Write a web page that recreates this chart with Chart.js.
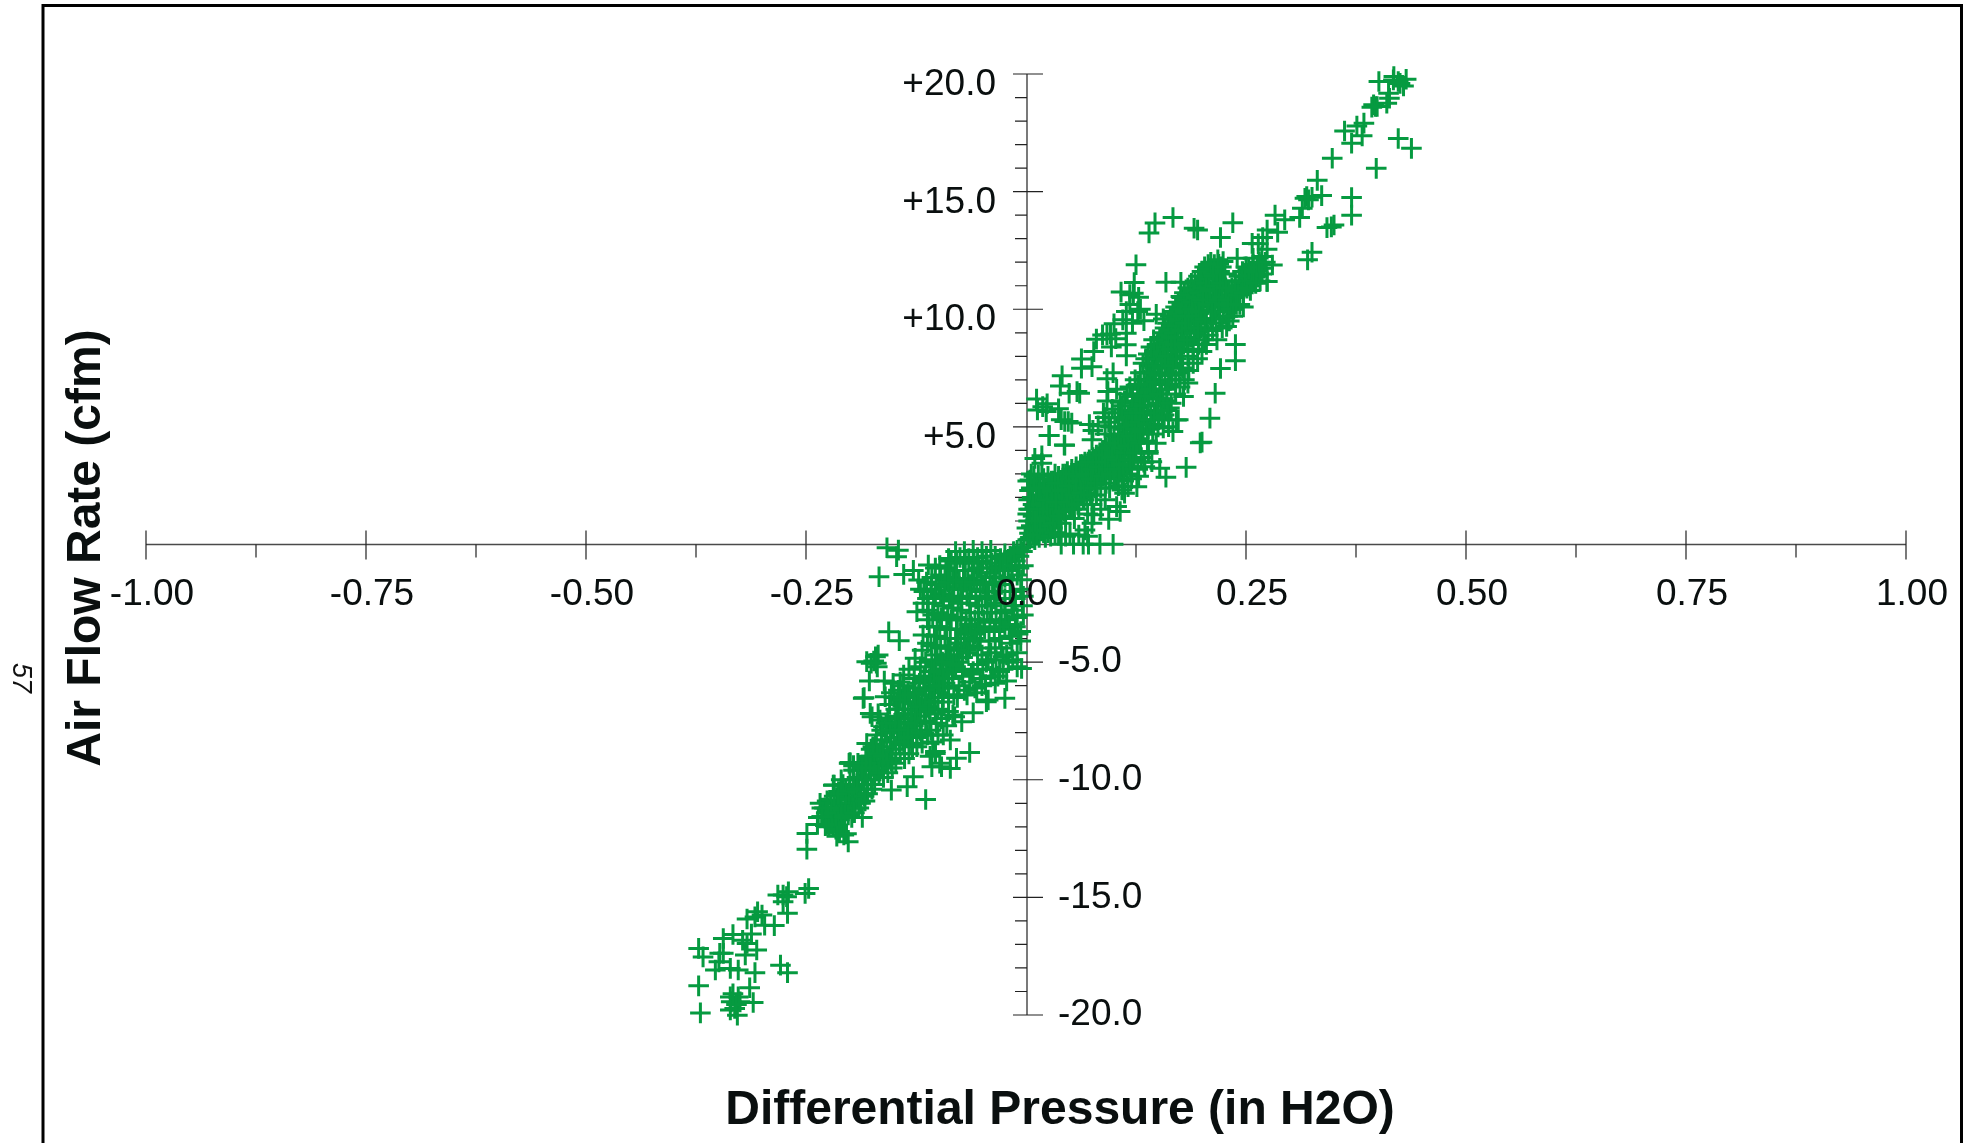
<!DOCTYPE html>
<html>
<head>
<meta charset="utf-8">
<title>Air Flow Rate vs Differential Pressure</title>
<script src="https://cdn.jsdelivr.net/npm/chart.js@4"></script>
<style>
    html, body { margin: 0; padding: 0; background: #fff; overflow: hidden; }
    canvas { display: block; }
</style>
</head>
<body>
<canvas id="flowChart" width="1965" height="1143"></canvas>
<script>
/* ---- tick labels ---- */
const xTickValues = [-1, -0.75, -0.5, -0.25, 0, 0.25, 0.5, 0.75, 1];
const xTickLabels = ['-1.00', '-0.75', '-0.50', '-0.25', '0.00', '0.25', '0.50', '0.75', '1.00'];
const yPositiveValues = [5, 10, 15, 20];
const yPositiveLabels = ['+5.0', '+10.0', '+15.0', '+20.0'];
const yNegativeValues = [-5, -10, -15, -20];
const yNegativeLabels = ['-5.0', '-10.0', '-15.0', '-20.0'];

const xTitle = 'Differential Pressure (in H2O)';
const yTitle = 'Air Flow Rate (cfm)';
const pageNumber = '57';

/* ---- readings [pressure, flow] ---- */
const upperTail = [
    [.401,19.68],[.418,19.89],[.432,19.78],[.425,19.6],[.429,19.49],[.4175,19.75],[.423,19.68],[.412,19.18],[.410,18.76],
    [.397,18.62],[.395,18.69],[.399,18.62],[.393,18.59],[.413,18.97],[.384,17.91],[.376,17.79],[.382,17.37],[.362,17.58],
    [.370,17.06],[.348,16.42],[.423,17.26],[.438,16.84],[.398,15.99],[.331,15.48],[.336,14.83],[.319,14.79],[.325,14.76],
    [.317,14.72],[.321,14.65],[.314,14.29],[.311,13.9],[.370,14.75],[.370,14.0],[.342,13.47],[.350,13.58],[.347,13.5],
    [.325,12.42],[.320,12.1],[.283,14.0],[.294,13.8],[.274,13.37],[.286,13.27],[.257,12.8],[.269,13.05],[.274,12.55],
    [.264,12.78],[.235,13.68],[.221,13.05],[.219,11.91],[.224,12.03],[.240,12.17],[.258,12.17],[.268,12.24],[.280,11.88],
    [.274,11.18],[.254,11.53],[.258,11.25],[.251,11.39],[.264,11.67],[.270,11.74],[.260,11.53],[.266,11.9],[.272,12.0]
];

const upperStrays = [
    [.167,13.9],[.1466,13.67],[.1398,13.24],
    [.191,13.44],[.195,13.37],[.125,11.89],[.123,11.14],[.108,10.73],[.159,11.15],[.176,11.15],[.176,10.54],[.128,10.51],
    [.122,10.68],[.118,10.62],[.134,9.51],[.148,9.79],[.156,9.59],[.114,9.9],[.100,9.38],[.114,8.98],[.114,8.49],[.114,8.02],
    [.087,8.91],[.092,8.91],[.096,8.95],[.080,8.73],[.077,8.2],[.063,7.89],[.075,7.56],[.063,7.49],[.041,7.17],[.092,7.05],
    [.049,6.43],[.058,6.5],[.061,6.43],[.039,6.74],[.093,6.5],[.092,6.1],[.012,6.18],[.019,5.86],[.024,5.98],[.037,5.77],
    [.013,5.72],[.023,5.65],[.044,5.23],[.052,5.16],[.048,5.23],[.040,5.3],[.026,4.63],[.044,4.22],[.018,3.77],[.075,4.45],
    [.238,8.5],[.238,7.81],[.221,7.48],[.215,6.43],[.209,5.37],[.198,4.32],[.184,6.86],[.190,7.7],[.274,11.18],[.228,9.27],
    [.247,10.1],[.217,8.7],[.183,10.26],[.173,5.3],[.167,4.8],[.156,4.95],[.139,3.95],[.179,6.29],[.127,9.9],[.118,10.2],
    [.121,9.4],[.130,10.0],[.110,9.55],[.102,8.75],[.097,8.4],[.099,7.3],[.103,6.6],[.107,6.05],[.098,5.75],[.088,5.6],
    [.094,5.2],[.082,5.05],[.090,4.7],[.072,5.1],[.076,4.85],[.018,3.45],[.010,3.66],[.014,2.96],[.0045,2.74],[.008,2.32],
    [.0265,4.63],[.0435,4.23]
];

const upperBand = [
    [.100,4.6],[.104,4.2],[.106,5.0],[.108,4.4],[.110,4.9],[.112,5.3],[.113,4.6],[.115,5.1],[.116,5.5],[.118,4.9],
    [.119,5.7],[.120,5.2],[.122,5.5],[.123,6.0],[.124,5.4],[.126,5.8],[.127,6.3],[.128,5.6],[.130,6.1],[.131,6.6],
    [.132,5.9],[.133,6.4],[.134,7.0],[.135,6.2],[.136,6.7],[.137,7.3],[.138,6.5],[.139,7.0],[.140,7.6],[.141,6.8],
    [.142,7.3],[.143,7.9],[.144,7.0],[.145,7.6],[.146,8.2],[.147,7.3],[.148,7.9],[.149,8.5],[.150,7.6],[.151,8.2],
    [.152,8.8],[.153,7.9],[.154,8.4],[.155,9.0],[.156,8.1],[.157,8.7],[.158,9.2],[.159,8.4],[.160,8.9],[.161,9.4],
    [.162,8.6],[.163,9.1],[.164,9.7],[.165,8.8],[.166,9.3],[.167,9.9],[.168,9.0],[.169,9.6],[.170,10.1],[.171,9.3],
    [.172,9.8],[.173,10.3],[.174,9.5],[.175,10.0],[.176,9.1],[.177,10.5],[.178,9.7],[.179,10.2],[.180,10.7],[.181,9.9],
    [.182,10.4],[.183,9.4],[.184,10.9],[.185,10.1],[.186,10.6],[.187,9.7],[.188,11.1],[.189,10.3],[.190,10.8],[.191,9.9],
    [.192,11.2],[.193,10.5],[.194,11.0],[.195,10.1],[.196,11.4],[.197,10.7],[.198,11.2],[.199,10.3],[.200,11.6],[.201,10.9],
    [.202,11.4],[.203,11.8],[.204,11.1],[.205,11.6],[.206,10.6],[.207,11.9],[.208,11.3],[.209,11.7],[.210,12.0],[.212,11.5],
    [.214,11.9],[.216,11.3],[.218,12.1],[.220,11.6],[.222,11.8],[.224,11.2],[.226,11.5],[.213,11.0],[.208,10.4],[.215,10.8],
    [.164,7.5],[.168,7.9],[.172,8.3],[.176,7.7],[.180,8.6],[.184,8.0],[.187,8.8],[.190,8.3],[.193,9.0],[.196,8.5],
    [.199,9.2],[.202,8.7],[.205,9.4],[.207,8.9],[.210,9.6],[.212,9.1],[.214,9.9],[.216,9.4],[.218,10.1],[.220,9.6],
    [.222,10.4],[.224,9.9],[.226,10.6],[.228,10.1],[.230,10.8],[.232,10.3],[.234,10.9],[.236,10.5],[.238,11.2],[.240,10.7],
    [.242,11.4],[.244,10.9],[.246,11.6],[.248,11.1],[.250,11.8],[.252,11.3],[.254,11.0],[.256,11.6],[.258,11.9],[.262,11.4],
    [.266,11.2],[.268,11.5],[.150,6.2],[.154,6.6],[.158,7.0],[.162,6.8],[.166,7.2],[.170,7.0],[.146,6.8],[.152,7.2],
    [.174,7.3],[.178,7.5],[.160,7.6],[.156,7.9],[.177,8.2],[.183,9.0],[.188,9.5],[.201,9.9],[.206,10.2],[.212,10.5],
    [.219,10.9],[.226,11.0],[.236,10.0],[.229,9.7],[.223,9.2],[.196,9.5],[.192,9.4],[.186,9.1]
];

const upperCore = [
    [.004,.48],[.006,.8],[.008,1.2],[.009,.6],[.010,1.6],[.011,.9],[.012,2.0],[.013,1.3],[.014,.7],[.015,1.7],
    [.016,1.0],[.017,2.1],[.018,1.4],[.019,.9],[.020,1.8],[.021,1.2],[.022,2.3],[.023,1.6],[.024,1.0],[.025,2.0],
    [.026,1.4],[.027,2.5],[.028,1.8],[.029,1.2],[.030,2.2],[.031,1.6],[.032,2.7],[.033,2.0],[.034,1.3],[.035,2.4],
    [.036,1.8],[.037,2.9],[.038,2.1],[.039,1.5],[.040,2.6],[.041,2.0],[.042,3.0],[.043,2.3],[.044,1.6],[.045,2.7],
    [.046,2.1],[.047,3.1],[.048,2.4],[.049,1.7],[.050,2.8],[.051,2.2],[.052,3.2],[.053,2.5],[.054,1.9],[.055,2.9],
    [.056,2.3],[.057,3.3],[.058,2.6],[.059,2.0],[.060,3.0],[.061,2.4],[.062,3.4],[.063,2.7],[.064,2.1],[.065,3.1],
    [.066,2.5],[.067,3.5],[.068,2.8],[.069,2.2],[.070,3.2],[.071,2.6],[.072,3.6],[.073,2.9],[.074,3.3],[.075,2.7],
    [.076,3.7],[.077,3.0],[.078,3.4],[.079,2.8],[.080,3.8],[.081,3.1],[.082,3.5],[.083,2.9],[.084,3.9],[.085,3.2],
    [.086,3.6],[.087,4.0],[.088,3.3],[.089,3.7],[.090,3.0],[.091,4.1],[.092,3.4],[.093,3.8],[.094,4.2],[.095,3.5],
    [.096,3.9],[.097,3.2],[.098,4.3],[.099,3.6],[.100,4.0],[.102,3.7],[.104,3.4],[.106,3.9],[.108,3.6],[.110,4.1],
    [.112,3.8],[.114,4.3],[.116,3.9],[.118,4.5],[.120,4.1],[.122,4.7],[.124,4.3],[.126,4.9],[.128,4.5],[.130,5.1],
    [.133,4.7],[.136,5.3],[.139,4.9],[.142,5.5],[.145,5.1],[.148,5.7],[.151,5.3],[.154,5.9],[.157,5.5],[.160,6.1],
    [.163,5.8],[.103,2.9],[.107,3.1],[.111,2.7],[.115,3.0],[.119,3.3],[.123,3.6],[.127,3.2],[.131,3.7],[.105,2.5],
    [.135,3.31],[.143,3.52],[.152,3.24],[.159,2.86],[.182,3.28],[.116,2.46],[.126,2.46],[.107,1.4],[.103,1.61],[.094,1.07],
    [.077,1.26],[.112,2.18],[.109,2.32],[.067,.62],[.075,.9],[.200,4.35],[.171,5.29],[.162,5.01],[.139,3.88],[.148,4.3],
    [.099,.01],[.084,.01],[.071,.01],[.065,.01],[.054,.01],[.040,.01],[.090,1.9],[.085,1.5],[.080,2.1],[.075,1.7],
    [.070,1.3],[.065,1.9],[.060,1.5],[.055,1.1],[.050,1.6],[.045,1.2],[.040,.9],[.035,1.1],[.030,.7],[.025,.5],
    [.020,.5],[.015,.3],[.010,.2],[.005,.3],[.002,.2],[.003,1.0],[.005,1.5],[.003,1.9],[.006,2.4],[.002,1.3],
    [.007,2.0],[.012,2.6],[.016,2.5],[.020,2.8],[.009,2.9],[.004,2.3],[.025,2.9],[.029,2.7],[.033,3.0],[.070,.35],
    [.060,.4],[.050,.45],[.045,.35],[.095,2.4],[.100,2.8]
];

const upperFill = [
    [.008,1.7],[.012,1.1],[.015,2.4],[.019,1.5],[.022,.8],[.024,1.9],[.027,1.1],[.029,2.3],[.031,.9],[.034,1.8],[.036,2.6],[.038,1.2],
    [.041,2.3],[.043,1.4],[.045,3.0],[.047,1.8],[.049,2.5],[.052,1.5],[.053,3.0],[.055,2.1],[.057,2.7],[.059,1.7],[.061,2.9],[.063,2.2],
    [.064,3.4],[.066,1.9],[.068,3.0],[.070,2.4],[.071,3.5],[.073,2.1],[.074,2.8],[.076,3.2],[.078,2.4],[.080,3.5],[.081,2.6],[.083,3.3],
    [.085,2.4],[.086,3.8],[.088,2.9],[.090,3.5],[.091,2.6],[.093,3.2],[.095,4.1],[.096,3.0],[.098,3.7],[.100,3.2],[.101,4.3],[.103,3.6],
    [.105,4.5],[.106,3.2],[.108,4.1],[.110,3.4],[.111,4.7],[.113,3.9],[.114,5.0],[.116,4.2],[.118,3.6],[.119,4.6],[.121,5.1],[.122,3.9],
    [.124,4.9],[.125,5.6],[.127,4.4],[.129,5.2],[.130,5.9],[.132,4.8],[.134,5.6],[.135,6.3],[.137,5.1],[.139,5.9],[.141,6.6],[.142,5.3],
    [.144,6.3],[.146,5.6],[.147,6.9],[.149,6.0],[.151,7.2],[.152,6.4],[.154,7.5],[.156,6.2],[.158,7.8],[.160,6.6],[.161,8.0],[.163,7.2],
    [.165,8.3],[.167,7.6],[.169,8.5],[.171,7.9],[.173,8.8],[.175,8.2],[.177,9.1],[.179,8.5],[.181,9.4],[.183,8.7],[.185,9.7],[.187,9.2],
    [.189,10.0],[.191,9.0],[.193,9.7],[.195,9.2],[.197,9.9],[.199,9.5],[.201,10.4],[.203,9.6],[.205,10.9],[.207,10.2],[.209,10.8],[.211,9.9],
    [.213,11.4],[.215,10.3],[.217,11.0],[.219,10.4],[.221,11.1],[.223,10.5],[.225,10.2],[.227,10.9],[.229,10.4],[.231,9.5],[.233,10.0],[.235,9.7],
    [.237,10.8],[.239,10.2],[.241,10.6],[.243,10.2],[.245,11.2],[.247,10.7],[.249,11.4],[.251,10.9],[.253,11.7],[.255,10.8],[.257,11.2],[.259,11.6],
    [.261,11.1],[.263,11.8],[.265,12.0],[.090,5.4],[.096,5.0],[.101,5.4],[.105,5.6],[.109,5.9],[.112,6.1],[.115,6.4],[.118,6.7],[.121,6.3],
    [.124,7.0],[.127,6.8],[.130,7.3],[.133,7.7],[.136,7.9],[.139,8.1],[.142,8.4],[.145,8.7],[.120,2.8],[.128,2.9],[.134,3.5],[.125,3.9],
    [.130,4.3],[.138,4.4],[.144,4.7],[.150,5.0],[.155,5.4],[.160,5.7],[.165,6.0],[.170,6.4],[.175,6.7],[.180,7.0],[.185,7.4],[.195,7.9],
    [.200,8.2],[.205,8.5],[.002,2.7],[.006,3.0],[.001,.7],[.003,1.5],[.008,.4],[.012,.4],[.016,.6],[.022,.3],[.028,.35],[.033,.5],[.037,.4],[.010,1.0]
];

const lowerCore = [
    [-.002,-.1],[-.004,-.3],[-.006,-.15],[-.008,-.5],[-.010,-.25],[-.012,-.7],[-.014,-.35],[-.016,-.9],[-.018,-.5],[-.020,-1.1],
    [-.022,-.7],[-.024,-1.4],[-.026,-.9],[-.028,-1.7],[-.030,-1.1],[-.032,-2.0],[-.034,-1.4],[-.036,-2.3],[-.038,-1.7],[-.040,-2.6],
    [-.042,-2.0],[-.044,-2.9],[-.046,-2.3],[-.048,-3.2],[-.050,-2.6],[-.052,-3.5],[-.054,-2.9],[-.056,-3.7],[-.058,-3.2],[-.060,-4.0],
    [-.062,-3.5],[-.064,-4.3],[-.066,-3.8],[-.068,-4.5],[-.070,-4.0],[-.072,-4.8],[-.074,-4.2],[-.076,-5.0],[-.078,-4.5],[-.080,-5.2],
    [-.082,-4.7],[-.084,-5.4],[-.086,-4.9],[-.088,-5.7],[-.090,-5.1],[-.092,-5.9],[-.094,-5.3],[-.096,-6.1],[-.098,-5.6],[-.100,-6.3],
    [-.102,-5.8],[-.104,-6.5],[-.106,-6.0],[-.108,-6.7],[-.110,-6.2],[-.112,-6.9],[-.114,-6.4],[-.116,-7.1],[-.118,-6.6],[-.120,-7.3],
    [-.122,-6.8],[-.124,-7.5],[-.126,-7.0],[-.128,-7.7],[-.130,-7.2],[-.132,-7.9],[-.134,-7.4],[-.136,-8.1],[-.138,-7.6],[-.140,-8.3],
    [-.142,-7.8],[-.144,-8.5],[-.146,-8.0],[-.148,-8.7],[-.150,-8.2],[-.152,-8.9],[-.154,-8.4],[-.156,-9.1],[-.158,-8.6],[-.160,-9.3],
    [-.162,-8.8],[-.164,-9.4],[-.166,-9.0],[-.168,-9.6],[-.170,-9.2],[-.172,-9.8],[-.174,-9.4],[-.176,-10.0],[-.178,-9.6],[-.180,-10.2],
    [-.182,-9.8],[-.184,-10.4],[-.186,-10.0],[-.188,-10.6],[-.190,-10.2],[-.192,-10.8],[-.194,-10.4],[-.196,-11.0],[-.198,-10.6],[-.200,-11.1],
    [-.202,-10.8],[-.204,-11.3],[-.206,-11.0],[-.208,-11.5],[-.210,-11.1],[-.212,-11.7],[-.214,-11.2],[-.216,-11.4],[-.218,-11.8],[-.220,-11.3],
    [-.223,-11.57],[-.226,-11.9],[-.229,-11.2],[-.232,-11.57],[-.228,-11.95],[-.224,-12.0],[-.219,-12.0],[-.214,-11.95],[-.232,-11.2],[-.236,-11.6],
    [-.210,-10.6],[-.205,-10.4],[-.200,-10.0],[-.196,-10.3],[-.192,-9.9],[-.188,-9.6],[-.184,-9.5],[-.180,-9.1],[-.176,-9.0],[-.172,-8.8]
];

const lowerScatter = [
    [-.085,-.7],[-.080,-.3],[-.075,-.55],
    [-.070,-.3],[-.065,-.6],[-.060,-.25],[-.055,-.55],[-.050,-.3],[-.045,-.5],[-.040,-.25],[-.035,-.5],[-.103,-1.0],[-.097,-1.3],
    [-.091,-1.0],[-.086,-1.4],[-.081,-1.1],[-.076,-1.5],[-.071,-1.1],[-.066,-1.45],[-.061,-1.1],[-.056,-1.5],[-.051,-1.2],[-.046,-1.6],
    [-.041,-1.2],[-.036,-1.6],[-.113,-1.6],[-.108,-1.9],[-.102,-1.7],[-.097,-2.1],[-.092,-1.8],[-.087,-2.2],[-.082,-1.9],[-.077,-2.3],
    [-.072,-1.9],[-.067,-2.2],[-.062,-1.9],[-.057,-2.3],[-.052,-2.0],[-.120,-1.9],[-.124,-2.86],[-.117,-2.5],[-.111,-2.8],[-.105,-2.5],
    [-.100,-2.9],[-.094,-2.6],[-.089,-3.0],[-.083,-2.7],[-.078,-3.1],[-.073,-2.8],[-.068,-3.2],[-.063,-2.9],[-.117,-3.85],[-.110,-3.5],
    [-.104,-3.9],[-.098,-3.5],[-.092,-4.0],[-.086,-3.6],[-.080,-4.0],[-.074,-3.6],[-.108,-4.3],[-.103,-4.7],[-.097,-4.4],[-.091,-4.8],
    [-.086,-4.4],[-.126,-4.84],[-.120,-5.2],[-.114,-5.0],[-.108,-5.4],[-.102,-5.1],[-.096,-5.5],[-.090,-4.7],[-.139,-5.55],[-.133,-5.3],
    [-.127,-5.7],[-.121,-5.9],[-.116,-5.6],[-.110,-5.7],[-.104,-5.8],[-.151,-5.9],[-.145,-6.2],[-.140,-6.0],[-.134,-6.3],[-.128,-6.1],
    [-.122,-6.4],[-.160,-6.47],[-.155,-6.8],[-.150,-6.5],[-.145,-7.0],[-.140,-6.7],[-.134,-7.0],[-.128,-6.7],[-.175,-7.32],[-.168,-7.2],
    [-.162,-7.75],[-.157,-7.4],[-.152,-7.7],[-.147,-7.3],[-.142,-7.55],[-.138,-7.2],[-.166,-7.46],[-.177,-7.18],[-.170,-8.1],[-.164,-8.3],
    [-.158,-8.0],[-.181,-8.46],[-.176,-8.7],[-.171,-8.5],[-.166,-8.75],[-.201,-9.3],[-.196,-9.6],[-.191,-9.3],[-.200,-9.27],[-.219,-10.23],
    [-.213,-10.5],[-.208,-10.2],[-.212,-10.85],[-.130,-8.5],[-.124,-8.2],[-.118,-8.45],[-.112,-8.1],[-.106,-8.4],[-.100,-8.1],[-.108,-7.9],
    [-.102,-7.6],[-.096,-7.4],[-.090,-7.7],[-.083,-7.25],[-.073,-7.53],[-.081,-7.32],[-.060,-7.15],[-.045,-6.68],[-.043,-6.61],[-.024,-6.54],
    [-.022,-5.8],[-.005,-5.27],[-.003,-3.0],[-.026,-4.77],[-.030,-5.4],[-.035,-5.9],[-.040,-5.6],[-.046,-5.95],[-.052,-5.7],[-.058,-6.1],
    [-.064,-5.85],[-.070,-6.2],[-.076,-6.0],[-.082,-6.4],[-.088,-6.1],[-.094,-6.5],[-.055,-5.1],[-.050,-4.7],[-.045,-5.0],[-.040,-4.6],
    [-.034,-4.9],[-.028,-4.4],[-.022,-4.7],[-.016,-4.2],[-.010,-4.6],[-.006,-4.1],[-.042,-4.1],[-.036,-3.7],[-.030,-4.0],[-.024,-3.6],
    [-.018,-3.9],[-.012,-3.5],[-.006,-3.7],[-.034,-3.2],[-.028,-2.9],[-.022,-3.2],[-.016,-2.8],[-.010,-3.1],[-.004,-2.6],[-.024,-2.3],
    [-.018,-2.0],[-.012,-2.3],[-.006,-1.9],[-.003,-2.2],[-.016,-1.5],[-.010,-1.3],[-.005,-1.5],[-.003,-.9],[-.008,-1.0],[-.014,-.3]
];

const lowerFill = [
    [-.098,-.9],[-.092,-1.5],[-.088,-.6],[-.083,-1.6],[-.079,-.8],[-.074,-1.9],[-.069,-.7],[-.064,-1.7],[-.059,-.8],[-.054,-1.0],[-.049,-.7],[-.044,-1.0],
    [-.039,-.8],[-.034,-1.0],[-.029,-.6],[-.024,-.4],[-.116,-2.0],[-.112,-2.3],[-.107,-1.4],[-.103,-2.2],[-.099,-1.7],[-.094,-2.3],[-.089,-1.6],[-.084,-2.4],
    [-.079,-1.5],[-.074,-2.5],[-.069,-1.6],[-.064,-2.5],[-.059,-1.6],[-.054,-2.6],[-.049,-1.7],[-.044,-2.2],[-.039,-2.9],[-.034,-2.5],[-.029,-3.3],[-.024,-2.8],
    [-.019,-3.4],[-.014,-2.6],[-.009,-3.8],[-.112,-3.2],[-.106,-3.0],[-.101,-3.5],[-.096,-3.1],[-.090,-3.6],[-.085,-3.2],[-.079,-3.6],[-.074,-3.2],[-.069,-3.7],
    [-.064,-3.4],[-.058,-3.8],[-.052,-4.1],[-.047,-3.6],[-.041,-3.3],[-.035,-4.4],[-.030,-3.5],[-.118,-4.5],[-.112,-4.2],[-.107,-4.9],[-.101,-4.3],[-.095,-5.0],
    [-.089,-4.4],[-.083,-5.1],[-.077,-4.2],[-.072,-5.3],[-.066,-4.6],[-.060,-5.4],[-.055,-4.4],[-.049,-5.3],[-.043,-4.9],[-.038,-5.3],[-.032,-5.6],[-.026,-5.3],
    [-.020,-5.0],[-.015,-4.9],[-.010,-5.2],[-.115,-5.8],[-.109,-6.1],[-.104,-5.4],[-.099,-6.0],[-.094,-5.7],[-.088,-6.4],[-.083,-5.7],[-.078,-6.5],[-.072,-5.6],
    [-.067,-6.4],[-.062,-5.5],[-.056,-6.3],[-.050,-6.0],[-.132,-6.5],[-.126,-6.3],[-.120,-6.9],[-.115,-6.2],[-.110,-7.0],[-.105,-6.7],[-.100,-7.0],[-.095,-6.7],
    [-.088,-7.1],[-.148,-7.0],[-.143,-6.6],[-.137,-6.4],[-.131,-7.4],[-.126,-7.6],[-.120,-7.9],[-.114,-7.5],[-.109,-7.6],[-.103,-7.2],[-.164,-7.9],[-.159,-7.6],
    [-.154,-7.9],[-.149,-7.6],[-.144,-7.9],[-.139,-8.4],[-.134,-8.2],[-.129,-8.6],[-.124,-8.6],[-.119,-8.0],[-.180,-9.0],[-.174,-8.6],[-.169,-8.9],[-.163,-9.0],
    [-.158,-9.3],[-.153,-9.2],[-.148,-9.3],[-.143,-8.9],[-.138,-9.1],[-.133,-8.9],[-.196,-9.4],[-.191,-9.9],[-.186,-9.5],[-.182,-9.3],[-.177,-9.5],[-.172,-10.2],
    [-.167,-9.7],[-.162,-9.9],[-.157,-9.7],[-.152,-9.5],[-.210,-10.0],[-.205,-10.8],[-.201,-10.5],[-.197,-11.2],[-.192,-10.4],[-.188,-11.0],[-.184,-10.7],[-.180,-10.6],
    [-.175,-10.4],[-.226,-10.9],[-.222,-11.0],[-.218,-10.7],[-.214,-10.6],[-.210,-11.6],[-.206,-11.5],[-.202,-11.5],[-.198,-11.6],[-.234,-11.0],[-.230,-11.6],[-.227,-11.4],
    [-.221,-11.9],[-.216,-12.1],[-.212,-12.2]
];

const lowerStrays = [
    [-.158,-.14],[-.145,-.24],[-.147,-.52],[-.167,-1.37],[-.139,-1.27],[-.111,-.87],[-.122,-1.51],[-.128,-1.1],[-.156,-3.71],[-.144,-4.09],
    [-.181,-4.98],[-.171,-4.77],[-.169,-5.2],[-.173,-4.95],[-.176,-5.05],[-.168,-4.7],[-.170,-5.05],[-.178,-5.8],[-.184,-6.51],[-.185,-6.54],
    [-.153,-6.3],[-.143,-5.85],[-.161,-5.8],[-.114,-10.84],[-.153,-10.44],[-.135,-10.3],[-.128,-9.87],[-.086,-9.52],[-.107,-9.45],[-.096,-9.45],
    [-.064,-8.84],[-.079,-9.09],[-.103,-8.88],[-.086,-8.31],[-.094,-8.1],[-.109,-9.0],[-.098,-9.3],[-.103,-8.8],[-.2,-9.3],[-.218,-10.22],
    [-.232,-11.57],[-.249,-12.28],[-.249,-12.95],[-.202,-12.64],[-.207,-12.35],[-.204,-12.3],[-.215,-12.4],[-.186,-11.6],[-.190,-11.2],[-.183,-10.9],
    [-.195,-11.4],[-.237,-11.9],[-.225,-11.2]
];

const lowerTail = [
    [-.247,-14.62],[-.251,-14.83],[-.270,-14.76],[-.276,-14.9],[-.282,-14.9],[-.272,-14.97],[-.276,-15.19],[-.271,-15.68],[-.305,-15.61],
    [-.300,-15.75],[-.317,-15.92],[-.308,-15.83],[-.286,-16.2],[-.297,-16.18],[-.333,-16.58],[-.344,-16.75],[-.312,-16.56],[-.322,-16.82],
    [-.317,-16.96],[-.306,-17.24],[-.319,-17.45],[-.372,-17.17],[-.348,-17.38],[-.367,-17.53],[-.353,-18.09],[-.349,-17.74],[-.344,-17.38],
    [-.336,-18.02],[-.327,-18.09],[-.308,-18.2],[-.279,-17.88],[-.271,-18.2],[-.372,-18.76],[-.314,-18.84],[-.336,-19.23],[-.327,-19.23],
    [-.310,-19.47],[-.335,-19.44],[-.325,-19.44],[-.336,-19.79],[-.331,-19.72],[-.370,-19.91],[-.328,-20.01],[-.329,-19.55],[-.333,-19.1]
];

const readings = [upperTail, upperStrays, upperBand, upperCore, upperFill, lowerCore, lowerScatter, lowerFill, lowerStrays, lowerTail].flat();

/* ---- tick marks, axis lines, frame and titles ---- */
const plateDecor = {
    id: 'plateDecor',
    beforeDatasetsDraw(chart) {
        const { ctx, scales: { x, y } } = chart;
        const x0 = x.getPixelForValue(0) + 1;
        const y0 = y.getPixelForValue(0);
        ctx.save();

        // frame runs off the bottom of the page
        ctx.strokeStyle = '#000';
        ctx.lineWidth = 3;
        ctx.strokeRect(43, 5.5, 1918.5, 1200);

        // axis lines
        ctx.strokeStyle = '#4a4a4a';
        ctx.lineWidth = 1.5;
        ctx.beginPath();
        ctx.moveTo(x.left, y0);
        ctx.lineTo(x.right, y0);
        ctx.stroke();
        ctx.strokeStyle = '#222';
        ctx.lineWidth = 1.2;
        ctx.beginPath();
        ctx.moveTo(x0, y.top);
        ctx.lineTo(x0, y.bottom);

        // x ticks: majors cross the axis, minors hang below it
        x.ticks.forEach(t => {
            const px = x.getPixelForValue(t.value);
            const major = xTickValues.includes(t.value);
            if (t.value === 0) return;
            ctx.moveTo(px, major ? y0 - 14 : y0);
            ctx.lineTo(px, major ? y0 + 15 : y0 + 13);
        });

        // y ticks: majors cross the axis, minors sit on the left
        y.ticks.forEach(t => {
            const py = y.getPixelForValue(t.value);
            const major = t.value % 5 === 0;
            if (t.value === 0) return;
            ctx.moveTo(x0 - (major ? 14 : 12), py);
            ctx.lineTo(major ? x0 + 16 : x0, py);
        });
        ctx.stroke();
        ctx.restore();
    },
    afterDraw(chart) {
        const { ctx } = chart;
        ctx.save();
        ctx.fillStyle = '#0a0f0f';
        ctx.textAlign = 'center';
        ctx.textBaseline = 'alphabetic';
        ctx.font = "bold 48px 'Liberation Sans'";
        ctx.fillText(xTitle, 1060, 1124);

        ctx.translate(100, 548);
        ctx.rotate(-Math.PI / 2);
        ctx.fillText(yTitle, 0, 0);
        ctx.restore();

        ctx.save();
        ctx.fillStyle = '#111';
        ctx.textAlign = 'center';
        ctx.font = "italic 27px 'Liberation Sans'";
        ctx.translate(13, 678);
        ctx.rotate(Math.PI / 2);
        ctx.fillText(pageNumber, 0, 0);
        ctx.restore();
    }
};

const tickFont = { family: "'Liberation Sans'", size: 37 };
// these scales only carry labels, so none of them may take layout room
const noWidth = scale => {
    scale.width = 0;
    scale.paddingTop = 0;
    scale.paddingBottom = 0;
};
const noHeight = scale => { scale.height = 0; };

new Chart(document.getElementById('flowChart'), {
    type: 'scatter',
    plugins: [plateDecor],
    data: {
        datasets: [{
            data: readings.map(([x, y]) => ({ x, y })),
            pointStyle: 'cross',
            pointRadius: 10.3,
            pointBorderWidth: 3,
            pointBorderColor: '#069a40',
            pointBackgroundColor: '#069a40',
            clip: false
        }]
    },
    options: {
        responsive: false,
        animation: false,
        layout: { autoPadding: false, padding: { left: 146, right: 59, top: 74, bottom: 128 } },
        plugins: { legend: { display: false }, tooltip: { enabled: false } },
        scales: {
            x: {
                type: 'linear',
                position: { y: -1.19 },
                min: -1,
                max: 1,
                afterFit: noHeight,
                grid: { display: false, drawTicks: false },
                border: { display: false },
                ticks: {
                    stepSize: 0.125,
                    autoSkip: false,
                    maxRotation: 0,
                    padding: 0,
                    labelOffset: 6,
                    z: 1,
                    color: '#0a0f0f',
                    font: tickFont,
                    callback: v => {
                        const i = xTickValues.indexOf(v);
                        return i < 0 ? '' : xTickLabels[i];
                    }
                }
            },
            y: {
                type: 'linear',
                position: { x: -0.0341 },
                min: -20,
                max: 20,
                afterFit: noWidth,
                grid: { display: false, drawTicks: false },
                border: { display: false },
                ticks: {
                    stepSize: 1,
                    autoSkip: false,
                    padding: 0,
                    labelOffset: 11,
                    color: '#0a0f0f',
                    font: tickFont,
                    callback: v => {
                        const i = yPositiveValues.indexOf(v);
                        return i < 0 ? '' : yPositiveLabels[i];
                    }
                }
            },
            yNeg: {
                type: 'linear',
                axis: 'y',
                position: 'left',
                min: -20,
                max: 20,
                afterFit: noWidth,
                grid: { display: false, drawTicks: false },
                border: { display: false },
                ticks: {
                    stepSize: 1,
                    autoSkip: false,
                    mirror: true,
                    padding: 912,
                    labelOffset: 0,
                    color: '#0a0f0f',
                    font: tickFont,
                    callback: v => {
                        const i = yNegativeValues.indexOf(v);
                        return i < 0 ? '' : yNegativeLabels[i];
                    }
                }
            }
        }
    }
});
</script>
</body>
</html>
